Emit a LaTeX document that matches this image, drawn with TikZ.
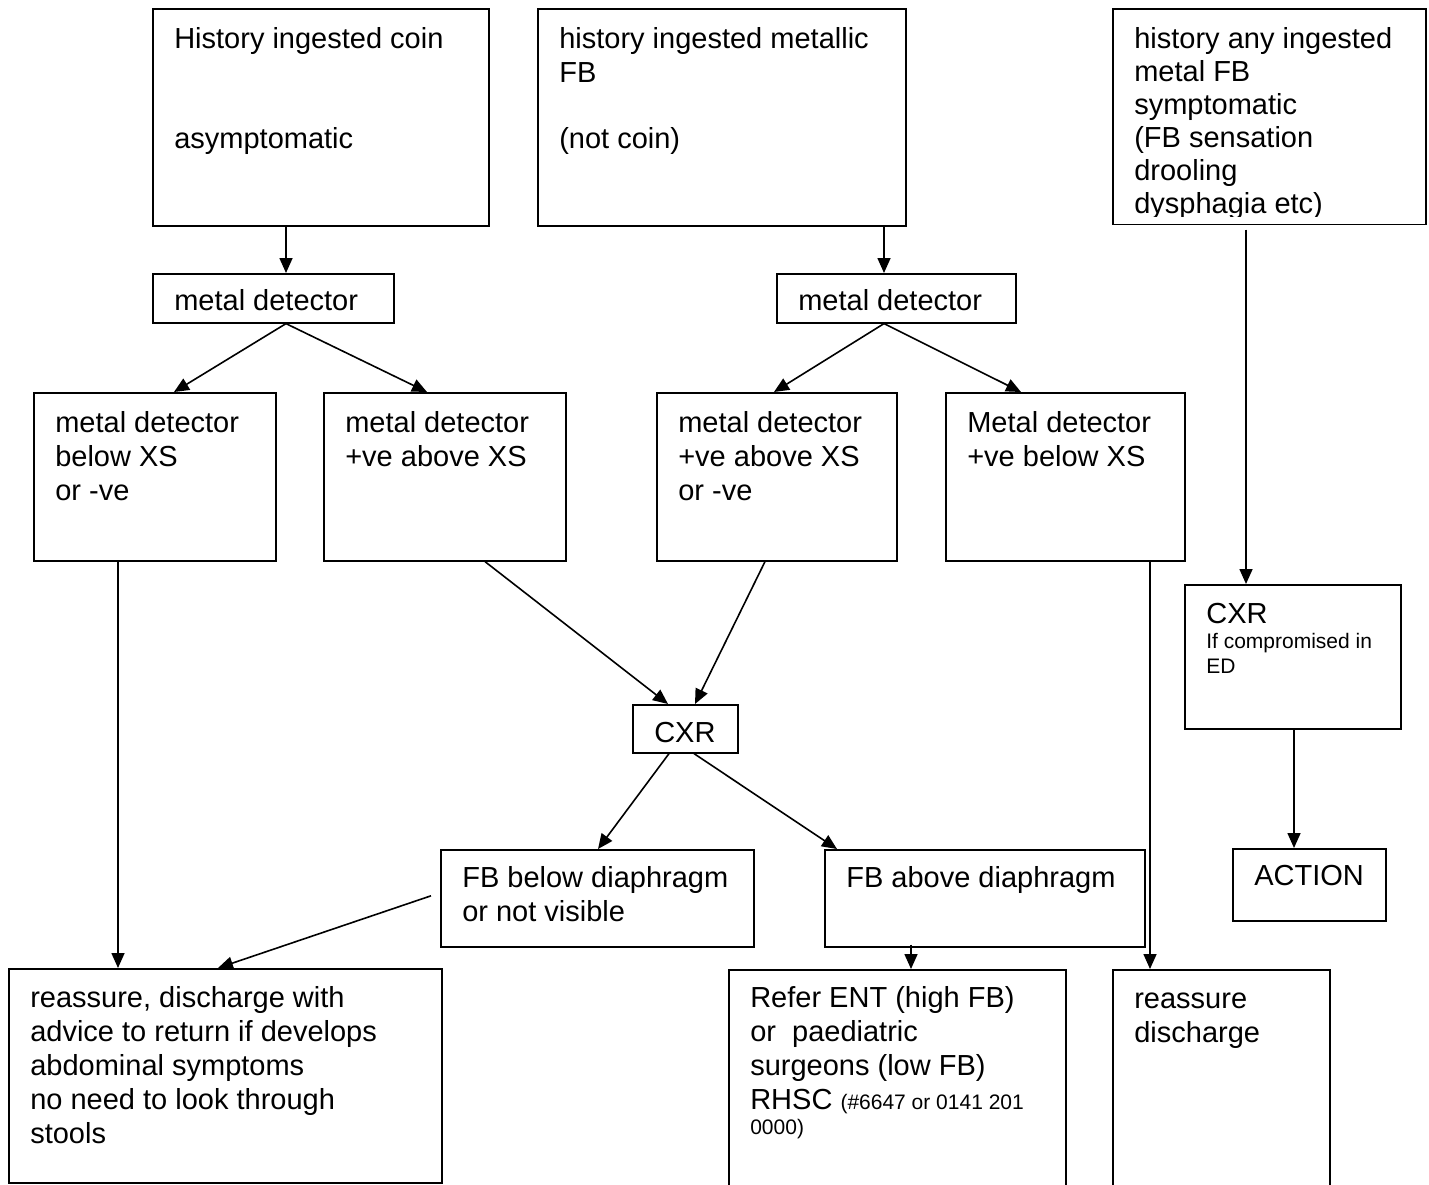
\documentclass[tikz,border=0pt]{standalone}
\usepackage{fontspec}
\setmainfont{Liberation Sans}
\usetikzlibrary{arrows.meta}
\newcommand{\bigtxt}{\fontsize{29}{34}\selectfont\spaceskip=0pt\xspaceskip=0pt}
\newcommand{\smalltxt}{\fontsize{21}{25}\selectfont\spaceskip=0pt\xspaceskip=0pt}

\begin{document}
\begin{tikzpicture}[x=1pt,y=-1pt,every node/.style={font=\bigtxt,align=left,execute at begin node={\spaceskip=0pt\xspaceskip=0pt}},box/.style={draw,line width=1.6pt,anchor=north west,inner xsep=21.5pt,inner ysep=0pt},dims/.style n args={3}{text width=#1,text height=#2,text depth=#3},arrow/.style={-{Triangle[length=15pt,width=13pt]},line width=1.6pt}]
\path[use as bounding box,clip] (0,0) rectangle (1429,1184);
% history boxes
\node[box,dims={293pt}{40pt}{177pt}] (coin) at (152,8) {History ingested coin\\[66pt]asymptomatic};
\node[box,dims={325pt}{40pt}{177pt}] (metal) at (537,8) {history ingested metallic\\FB\\[32pt](not coin)};
\node[box,dims={270pt}{40pt}{175pt},font=\fontsize{29}{33}\selectfont] (sympt) at (1112,8) {history any ingested\\metal FB\\symptomatic\\(FB sensation\\drooling\\dysphagia etc)};
\fill[white] ([shift={(2pt,1pt)}]sympt.south west) rectangle ([shift={(-2pt,8pt)}]sympt.south east);
% detectors
\node[box,dims={198pt}{37pt}{12pt}] (det1) at (152,273) {metal detector};
\node[box,dims={196pt}{37pt}{12pt}] (det2) at (776,273) {metal detector};
\node[box,dims={199pt}{40pt}{128pt}] (d1neg) at (33,392) {metal detector\\below XS\\or -ve};
\node[box,dims={199pt}{40pt}{128pt}] (d1pos) at (323,392) {metal detector\\+ve above XS};
\node[box,dims={197pt}{40pt}{128pt}] (d2pos) at (656,392) {metal detector\\+ve above XS\\or -ve};
\node[box,dims={196pt}{40pt}{128pt}] (d2low) at (945,392) {Metal detector\\+ve below XS};
% x-ray
\node[box,dims={62pt}{38pt}{10pt}] (cxr) at (632,704) {CXR};
\node[box,dims={173pt}{39pt}{105pt}] (cxrsym) at (1184,584) {CXR\par\smalltxt If compromised in\\ED\par};
\node[box,dims={270pt}{38pt}{59pt}] (fbbelow) at (440,849) {FB below diaphragm\\or not visible};
\node[box,dims={277pt}{38pt}{59pt}] (fbabove) at (824,849) {FB above diaphragm};
\node[box,dims={110pt}{37pt}{35pt}] (action) at (1232,848) {ACTION};
% outcomes
\node[box,dims={390pt}{39pt}{175pt}] (discharge) at (8,968) {reassure, discharge with\\advice to return if develops\\abdominal symptoms\\no need to look through\\stools};
\node[box,dims={294pt}{38pt}{193pt}] (refer) at (728,969) {Refer ENT (high FB)\\or\ \ paediatric\\surgeons (low FB)\\RHSC {\smalltxt(\#6647 or 0141 201}\\[-9pt]{\smalltxt 0000)}};
\node[box,dims={174pt}{39pt}{192pt}] (reassure) at (1112,969) {reassure\\discharge};
\draw[arrow] ([xshift=134pt]coin.south west) -- ([xshift=134pt]det1.north west); \draw[arrow] ([xshift=347pt]metal.south west) -- ([xshift=108pt]det2.north west);
\draw[arrow] ([shift={(134pt,-5pt)}]sympt.south west) -- ([xshift=62pt]cxrsym.north west);
\draw[arrow] ([xshift=134pt]det1.south west) -- ([xshift=141pt]d1neg.north west); \draw[arrow] ([xshift=134pt]det1.south west) -- ([xshift=104pt]d1pos.north west);
\draw[arrow] ([xshift=108pt]det2.south west) -- ([xshift=118pt]d2pos.north west); \draw[arrow] ([xshift=108pt]det2.south west) -- ([xshift=76pt]d2low.north west);
\draw[arrow] ([xshift=85pt]d1neg.south west) -- ([xshift=110pt]discharge.north west);
\draw[arrow] ([xshift=162pt]d1pos.south west) -- ([xshift=36pt]cxr.north west); \draw[arrow] ([xshift=109pt]d2pos.south west) -- ([xshift=63pt]cxr.north west);
\draw[arrow] ([xshift=205pt]d2low.south west) -- ([xshift=38pt]reassure.north west);
\draw[arrow] ([xshift=37pt]cxr.south west) -- ([xshift=158pt]fbbelow.north west); \draw[arrow] ([xshift=62pt]cxr.south west) -- ([xshift=13pt]fbabove.north west);
\draw[arrow] ([xshift=-9pt,yshift=2.5pt]fbbelow.west) -- ([xshift=210pt]discharge.north west);
\draw[arrow] ([shift={(87pt,3pt)}]fbabove.south west) -- ([xshift=183pt]refer.north west);
\draw[arrow] ([xshift=110pt]cxrsym.south west) -- ([xshift=62pt]action.north west);
\end{tikzpicture}
\end{document}
